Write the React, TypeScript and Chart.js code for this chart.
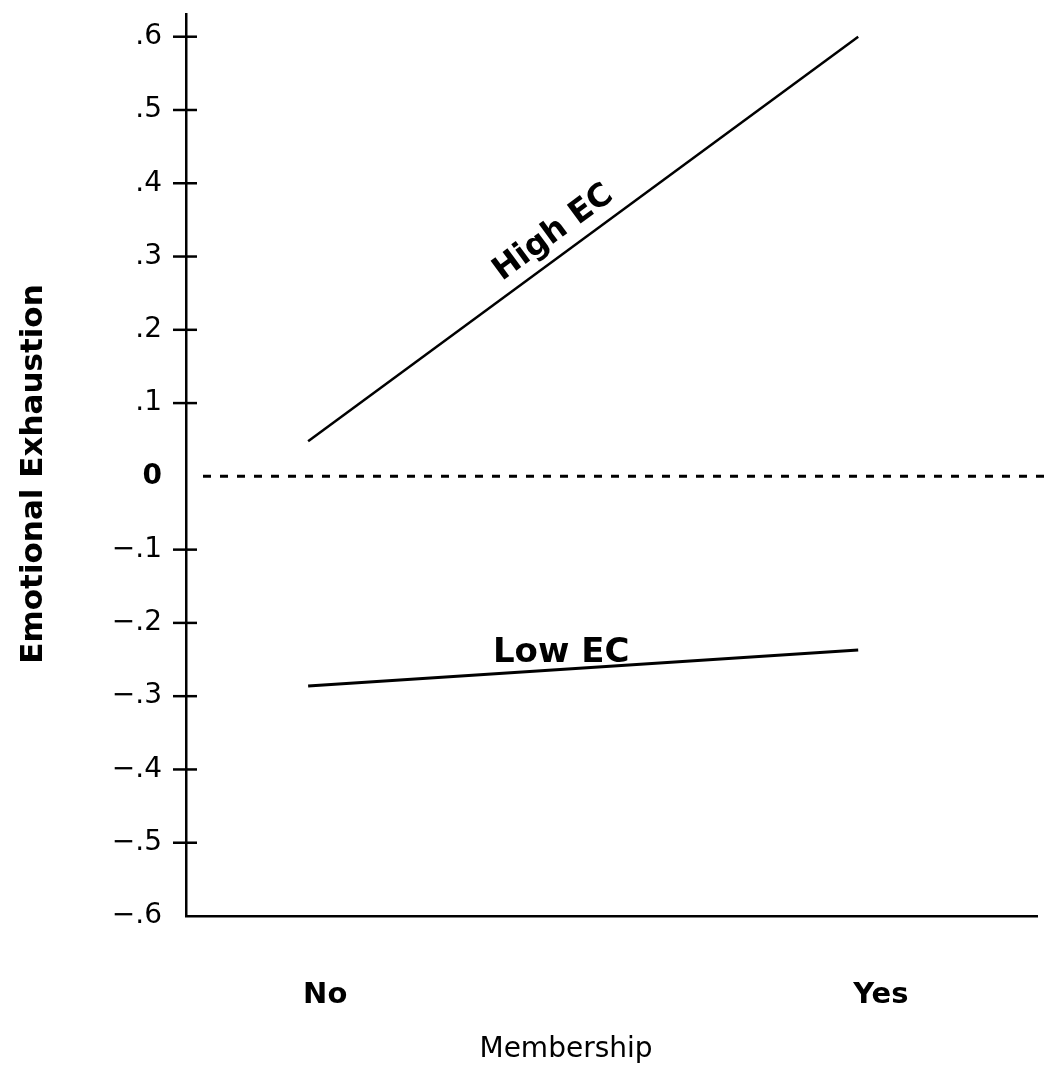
import { useEffect, useRef } from "react";
import { Chart, registerables } from "chart.js";

Chart.register(...registerables);

// ---- data ----
const categories = ["No", "Yes"];
const highEC = [0.048, 0.6];
const lowEC = [-0.286, -0.237];
const seriesLabels = ["High EC", "Low EC"];
const yTickValues = [0.6, 0.5, 0.4, 0.3, 0.2, 0.1, 0, -0.1, -0.2, -0.3, -0.4, -0.5, -0.6];
const yTickLabels = [".6", ".5", ".4", ".3", ".2", ".1", "0", "\u2212.1", "\u2212.2", "\u2212.3", "\u2212.4", "\u2212.5", "\u2212.6"];
const referenceValue = 0;
const xTitle = "Membership";
const yTitle = "Emotional Exhaustion";

const FONT = "'DejaVu Sans', 'Liberation Sans', sans-serif";

export default function App() {
  const ref = useRef<HTMLCanvasElement>(null);

  useEffect(() => {
    const canvas = ref.current;
    if (!canvas) return;

    const tickMarks = {
      id: "tickMarks",
      afterDatasetsDraw(chart: any) {
        const ys = chart.scales.y;
        const x0 = chart.chartArea.left;
        const ctx = chart.ctx;
        ctx.save();
        ctx.strokeStyle = "#000";
        ctx.lineWidth = 2.5;
        const last = yTickValues[yTickValues.length - 1];
        yTickValues.forEach((v) => {
          if (v === 0 || v === last) return;
          const py = ys.getPixelForValue(v);
          ctx.beginPath();
          ctx.moveTo(x0 - 13, py);
          ctx.lineTo(x0 + 11, py);
          ctx.stroke();
        });
        ctx.restore();
      },
    };

    const refLine = {
      id: "refLine",
      afterDatasetsDraw(chart: any) {
        const ys = chart.scales.y;
        const ctx = chart.ctx;
        const py = ys.getPixelForValue(referenceValue);
        ctx.save();
        ctx.strokeStyle = "#000";
        ctx.lineWidth = 3;
        ctx.setLineDash([8, 9]);
        ctx.beginPath();
        ctx.moveTo(chart.chartArea.left + 17, py);
        ctx.lineTo(chart.width, py);
        ctx.stroke();
        ctx.restore();
      },
    };

    const lineLabels = {
      id: "lineLabels",
      afterDatasetsDraw(chart: any) {
        const xs = chart.scales.x;
        const ys = chart.scales.y;
        const ctx = chart.ctx;
        const area = chart.chartArea;
        ctx.save();
        ctx.fillStyle = "#000";
        ctx.textAlign = "center";
        ctx.textBaseline = "alphabetic";
        // High EC, along the line
        {
          ctx.font = `bold 32px ${FONT}`;
          const p0 = { x: xs.getPixelForValue(0), y: ys.getPixelForValue(highEC[0]) };
          const p1 = { x: xs.getPixelForValue(1), y: ys.getPixelForValue(highEC[1]) };
          const ang = Math.atan2(p1.y - p0.y, p1.x - p0.x);
          const t = 0.47;
          const cx = p0.x + (p1.x - p0.x) * t;
          const cy = p0.y + (p1.y - p0.y) * t;
          ctx.save();
          ctx.translate(cx, cy);
          ctx.rotate(ang);
          ctx.fillText(seriesLabels[0], 0, -14);
          ctx.restore();
        }
        // Low EC, horizontal above the line
        {
          ctx.font = `bold 34px ${FONT}`;
          const p0 = { x: xs.getPixelForValue(0), y: ys.getPixelForValue(lowEC[0]) };
          const p1 = { x: xs.getPixelForValue(1), y: ys.getPixelForValue(lowEC[1]) };
          const t = 0.46;
          const cx = p0.x + (p1.x - p0.x) * t;
          const cy = p0.y + (p1.y - p0.y) * t;
          ctx.fillText(seriesLabels[1], cx, cy - 7);
        }
        // x title
        ctx.font = `28px ${FONT}`;
        ctx.textBaseline = "middle";
        ctx.fillText(xTitle, 566, 1050);
        // y title
        ctx.save();
        ctx.font = `bold 31px ${FONT}`;
        ctx.translate(34, (area.top + area.bottom) / 2 + 9);
        ctx.rotate(-Math.PI / 2);
        ctx.fillText(yTitle, 0, 0);
        ctx.restore();
        ctx.restore();
      },
    };

    const chart = new Chart(canvas, {
      type: "line",
      data: {
        datasets: [
          {
            label: seriesLabels[0],
            data: categories.map((_, i) => ({ x: i, y: highEC[i] })),
            borderColor: "#000",
            borderWidth: 2.5,
            pointRadius: 0,
            tension: 0,
          },
          {
            label: seriesLabels[1],
            data: categories.map((_, i) => ({ x: i, y: lowEC[i] })),
            borderColor: "#000",
            borderWidth: 3,
            pointRadius: 0,
            tension: 0,
          },
        ],
      },
      options: {
        responsive: false,
        animation: false,
        devicePixelRatio: 1,
        layout: { padding: { top: 14, right: 15, left: 0, bottom: 0 } },
        plugins: { legend: { display: false }, tooltip: { enabled: false } },
        scales: {
          x: {
            type: "linear",
            min: -0.222,
            max: 1.325,
            grid: { display: false },
            border: { display: true, color: "#000", width: 2.5 },
            afterBuildTicks: (s: any) => {
              s.ticks = categories.map((_, i) => ({ value: i }));
            },
            afterFit: (s: any) => {
              s.height = 156;
              s.paddingLeft = 0;
              s.paddingRight = 0;
            },
            ticks: {
              autoSkip: false,
              maxRotation: 0,
              align: "start",
              callback: (v: any) => categories[Math.round(Number(v))] ?? "",
              font: { family: FONT, size: 29, weight: "bold" },
              color: "#000",
              padding: 54,
              labelOffset: -5,
            },
          },
          y: {
            type: "linear",
            min: -0.6,
            max: 0.631,
            grid: { display: false },
            border: { display: true, color: "#000", width: 2.5 },
            afterBuildTicks: (s: any) => {
              s.ticks = yTickValues.map((v) => ({ value: v }));
            },
            afterFit: (s: any) => {
              s.width = 186;
              s.paddingTop = 0;
              s.paddingBottom = 0;
            },
            ticks: {
              autoSkip: false,
              callback: (v: any) => {
                const i = yTickValues.findIndex((t) => Math.abs(t - Number(v)) < 1e-9);
                return i >= 0 ? yTickLabels[i] : "";
              },
              font: (ctx: any) => ({
                family: FONT,
                size: 28,
                weight: ctx.tick && ctx.tick.value === 0 ? "bold" : "normal",
              }),
              color: "#000",
              padding: 16,
            },
            title: { display: false },
          },
        },
      },
      plugins: [tickMarks, refLine, lineLabels],
    } as any);

    return () => chart.destroy();
  }, []);

  return (
    <div style={{ position: "absolute", left: 0, top: 0, width: 1052, height: 1072, background: "#fff" }}>
      <canvas ref={ref} width={1052} height={1072} style={{ display: "block" }} />
    </div>
  );
}
